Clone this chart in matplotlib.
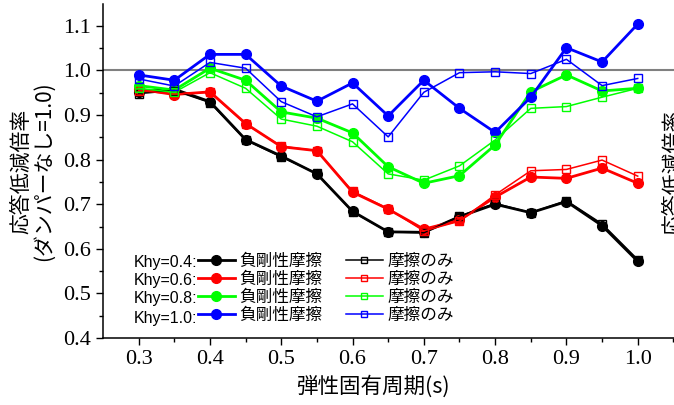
import numpy as np
import matplotlib.pyplot as plt
from matplotlib.lines import Line2D

plt.rcParams['font.family'] = ['Liberation Sans', 'Noto Sans CJK JP']

# data
period = [0.30, 0.35, 0.40, 0.45, 0.50, 0.55, 0.60, 0.65, 0.70, 0.75, 0.80, 0.85, 0.90, 0.95, 1.00]

black_f = [0.952, 0.958, 0.930, 0.845, 0.808, 0.768, 0.684, 0.638, 0.637, 0.672, 0.700, 0.681, 0.706, 0.652, 0.572]
black_o = [0.948, 0.955, 0.928, 0.844, 0.806, 0.769, 0.683, 0.638, 0.636, 0.673, 0.702, 0.681, 0.708, 0.656, 0.576]
red_f = [0.958, 0.946, 0.952, 0.881, 0.829, 0.820, 0.727, 0.689, 0.644, 0.664, 0.716, 0.761, 0.758, 0.781, 0.747]
red_o = [0.955, 0.947, 0.951, 0.880, 0.830, 0.820, 0.729, 0.690, 0.640, 0.662, 0.721, 0.775, 0.778, 0.799, 0.763]
green_f = [0.966, 0.956, 1.005, 0.978, 0.907, 0.893, 0.860, 0.784, 0.747, 0.764, 0.833, 0.952, 0.990, 0.954, 0.960]
green_o = [0.960, 0.951, 0.995, 0.960, 0.891, 0.875, 0.840, 0.768, 0.754, 0.786, 0.844, 0.915, 0.919, 0.940, 0.960]
blue_f = [0.990, 0.978, 1.036, 1.036, 0.965, 0.931, 0.972, 0.898, 0.978, 0.915, 0.861, 0.940, 1.051, 1.019, 1.104]
blue_o = [0.981, 0.965, 1.018, 1.005, 0.930, 0.896, 0.925, 0.851, 0.951, 0.995, 0.997, 0.993, 1.025, 0.966, 0.982]

khy = ['Khy=0.4:', 'Khy=0.6:', 'Khy=0.8:', 'Khy=1.0:']
colors = ['#000000', '#ff0000', '#00ff00', '#0000ff']
filled = [black_f, red_f, green_f, blue_f]
opened = [black_o, red_o, green_o, blue_o]

W, H = 674, 405
fig = plt.figure(figsize=(W / 100, H / 100), dpi=100)
ax = fig.add_axes([103 / W, 1 - 338 / H, 577.5 / W, 334 / H])

ax.axhline(1.0, color='#808080', lw=1.5, zorder=1)

for c, yf in zip(colors, filled):
    ax.plot(period, yf, color=c, lw=2, marker='o', ms=7, mec=c, mfc=c, zorder=2)
for c, yo in zip(colors, opened):
    ax.plot(period, yo, color=c, lw=1.1, marker='s', ms=6, mec=c, mfc='none', mew=1.0, zorder=3)

ax.set_xlim(0.25, 1.06)
ax.set_ylim(0.4, 1.149)
ax.set_xticks(np.arange(0.3, 1.01, 0.1))
ax.set_xticks(np.arange(0.35, 1.06, 0.1), minor=True)
ax.set_yticks(np.arange(0.4, 1.11, 0.1))
ax.set_yticks(np.arange(0.45, 1.15, 0.1), minor=True)
ax.xaxis.set_major_formatter(plt.FormatStrFormatter('%.1f'))
ax.yaxis.set_major_formatter(plt.FormatStrFormatter('%.1f'))
ax.tick_params(which='major', direction='out', length=5, width=1, labelsize=16, pad=4)
ax.tick_params(which='minor', direction='out', length=3, width=1)
for lab in ax.get_xticklabels() + ax.get_yticklabels():
    lab.set_family('Liberation Serif')
for s in ['top', 'right']:
    ax.spines[s].set_visible(False)
for s in ['left', 'bottom']:
    ax.spines[s].set_linewidth(1.1)

ax.set_xlabel('弾性固有周期(s)', fontsize=15.5, family=['Noto Sans CJK JP'])
ax.xaxis.set_label_coords(0.4675, -0.112)
ax.set_ylabel('応答低減倍率\n(ダンパーなし=1.0)', fontsize=15, family=['Noto Sans CJK JP'], linespacing=1.05)
ax.yaxis.set_label_coords(-0.083, 0.5)

# right-hand label, cut by the figure edge as in the source
fig.text(673 / W, 1 - 172 / H, '応答低減倍率', rotation=90, fontsize=15,
         family=['Noto Sans CJK JP'], ha='center', va='center')

# legend
handles, labels = [], []
for c in colors:
    handles.append(Line2D([], [], color=c, lw=2, marker='o', ms=7, mfc=c, mec=c))
    labels.append('負剛性摩擦')
for c in colors:
    handles.append(Line2D([], [], color=c, lw=1.1, marker='s', ms=5, mfc='none', mec=c))
    labels.append('摩擦のみ')
leg = ax.legend(handles, labels, ncol=2, loc='upper left',
                bbox_to_anchor=(198 / W, 1 - 253 / H), bbox_transform=fig.transFigure,
                frameon=False, fontsize=12, handlelength=2.2, handletextpad=0.3,
                columnspacing=1.4, labelspacing=0.05, borderpad=0, borderaxespad=0,
                numpoints=1, prop={'family': ['Noto Sans CJK JP'], 'size': 12})

row_y = [263, 281, 299, 318]
for t, yy in zip(khy, row_y):
    fig.text(197 / W, 1 - yy / H, t, fontsize=11.5, ha='right', va='center',
             family=['Liberation Sans'])

fig.savefig('out.png', dpi=100)
